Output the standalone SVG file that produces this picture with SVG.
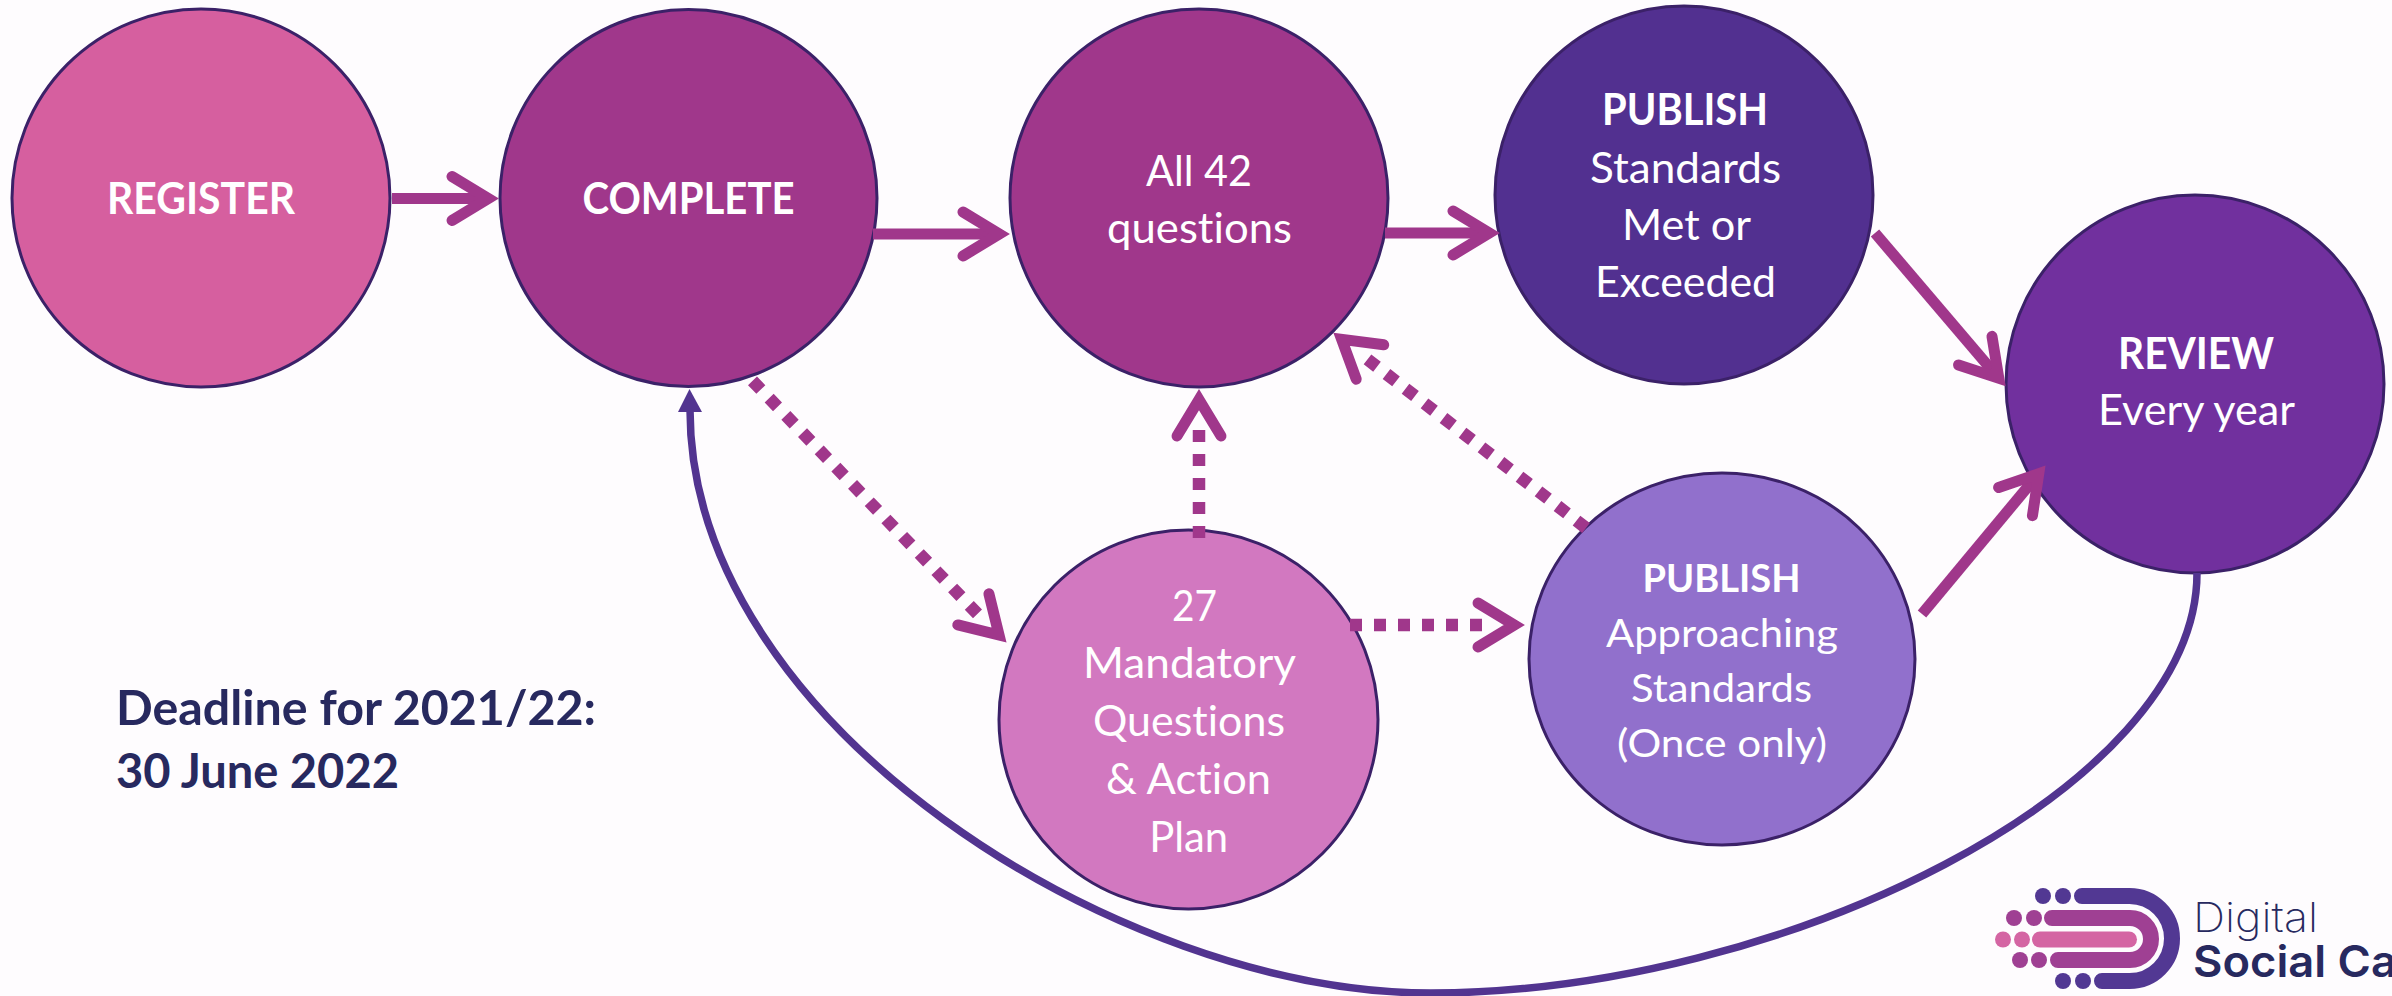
<svg xmlns="http://www.w3.org/2000/svg" width="2392" height="996" viewBox="0 0 2392 996">
<style>
text{font-family:Lato,"Open Sans",sans-serif;text-anchor:middle;fill:#fff;font-size:43px;font-variant-ligatures:none}
.b{font-weight:700}
.n{stroke:#3b2168;stroke-width:3}
.c{fill:none;stroke:#a0378b;stroke-width:11}
.d{fill:none;stroke:#a0378b;stroke-width:12.5;stroke-dasharray:12 12}
.m{fill:none;stroke:none}
.h{fill:none;stroke:#a0378b;stroke-width:11;stroke-linecap:round;stroke-miterlimit:10}
.dl{text-anchor:start;fill:#27295f;font-size:48px}
.lg{text-anchor:start;fill:#27295f;font-family:Inter,Lato,sans-serif}
.s{font-size:39px}
</style>
<defs>
<marker id="arrow" markerUnits="userSpaceOnUse" orient="auto" markerWidth="2" markerHeight="2" overflow="visible"><path class="h" d="M-32,-22L4.300,0L-32,22"/></marker>
</defs>
<rect width="2392" height="996" fill="#fefcfe"/>
<g id="register"><circle class="n" cx="201" cy="198" r="189" fill="#d65f9f"/><text class="b" x="201" y="214" textLength="188" lengthAdjust="spacingAndGlyphs">REGISTER</text></g>
<g id="complete"><circle class="n" cx="688.500" cy="198" r="188.500" fill="#a0378b"/><text class="b" x="688.500" y="214" textLength="212" lengthAdjust="spacingAndGlyphs">COMPLETE</text></g>
<g id="all42"><circle class="n" cx="1199" cy="198" r="189" fill="#a0378b"/><text x="1199" y="186" textLength="106" lengthAdjust="spacingAndGlyphs">All 42</text><text x="1199.500" y="243" textLength="185" lengthAdjust="spacingAndGlyphs">questions</text></g>
<g id="publish-met"><circle class="n" cx="1684" cy="195" r="189" fill="#523090"/><text class="b" x="1685" y="125" textLength="166" lengthAdjust="spacingAndGlyphs">PUBLISH</text><text x="1685.500" y="182.500" textLength="191" lengthAdjust="spacingAndGlyphs">Standards</text><text x="1686.500" y="240" textLength="129" lengthAdjust="spacingAndGlyphs">Met or</text><text x="1685.500" y="297" textLength="181" lengthAdjust="spacingAndGlyphs">Exceeded</text></g>
<g id="review"><circle class="n" cx="2195" cy="384" r="189" fill="#71309e"/><text class="b" x="2196" y="369" textLength="156" lengthAdjust="spacingAndGlyphs">REVIEW</text><text x="2196.500" y="425" textLength="197" lengthAdjust="spacingAndGlyphs">Every year</text></g>
<g id="mandatory"><circle class="n" cx="1188.500" cy="719.500" r="189.500" fill="#d278c0"/><text x="1194.500" y="621" textLength="45" lengthAdjust="spacingAndGlyphs">27</text><text x="1189.500" y="678" textLength="213" lengthAdjust="spacingAndGlyphs">Mandatory</text><text x="1189" y="736" textLength="192" lengthAdjust="spacingAndGlyphs">Questions</text><text x="1188.500" y="794" textLength="165" lengthAdjust="spacingAndGlyphs">&amp; Action</text><text x="1188.700" y="852" textLength="79" lengthAdjust="spacingAndGlyphs">Plan</text></g>
<g id="publish-approaching"><ellipse class="n" cx="1722" cy="659" rx="193" ry="186" fill="#9170cc"/><text class="b s" x="1721.500" y="592" textLength="158" lengthAdjust="spacingAndGlyphs">PUBLISH</text><text class="s" x="1722" y="647" textLength="232" lengthAdjust="spacingAndGlyphs">Approaching</text><text class="s" x="1721.500" y="702" textLength="181" lengthAdjust="spacingAndGlyphs">Standards</text><text class="s" x="1722" y="757" textLength="210" lengthAdjust="spacingAndGlyphs">(Once only)</text></g>
<g id="deadline"><text class="b dl" x="116" y="725" textLength="480" lengthAdjust="spacingAndGlyphs">Deadline for 2021/22:</text><text class="b dl" x="116" y="788" textLength="283" lengthAdjust="spacingAndGlyphs">30 June 2022</text></g>
<g id="logo">
<path d="M2082,896H2129.500A42.500,42.500 0 0 1 2129.500,981H2102" fill="none" stroke="#523893" stroke-width="16" stroke-linecap="round"/>
<path d="M2052,918H2130A21,21 0 0 1 2130,960H2058" fill="none" stroke="#9f4093" stroke-width="16" stroke-linecap="round"/>
<path d="M2040,939.500H2129" stroke="#d465a3" stroke-width="16" stroke-linecap="round"/>
<g fill="#523893"><circle cx="2043" cy="896" r="8"/><circle cx="2063" cy="896" r="8"/><circle cx="2063" cy="981" r="8"/><circle cx="2083" cy="981" r="8"/></g>
<g fill="#9f4093"><circle cx="2014" cy="918" r="8"/><circle cx="2034" cy="918" r="8"/><circle cx="2020" cy="960" r="8"/><circle cx="2039" cy="960" r="8"/></g>
<g fill="#d465a3"><circle cx="2003" cy="939.500" r="8"/><circle cx="2022" cy="939.500" r="8"/></g>
<text class="lg" x="2193" y="932" style="font-size:41px;font-weight:200" textLength="125" lengthAdjust="spacingAndGlyphs">Digital</text>
<text class="lg" x="2193" y="977" style="font-size:44px;font-weight:600" textLength="204" lengthAdjust="spacingAndGlyphs">Social Ca</text>
</g>
<g id="connectors">
<path d="M2197,573C2197,790 1780,993 1431,993C1120,993 690,725 690,410" fill="none" stroke="#523490" stroke-width="7.500"/>
<path d="M689.500,389L678,412H702Z" fill="#523490"/>
<path class="c" d="M392,198.500H484" marker-end="url(#arrow)"/>
<path class="c" d="M873,234H995" marker-end="url(#arrow)"/>
<path class="c" d="M1385,233H1485" marker-end="url(#arrow)"/>
<path class="c" d="M1875,233L1996,375" marker-end="url(#arrow)"/>
<path class="c" d="M1922,614L2036,477" marker-end="url(#arrow)"/>
<path class="d" d="M752.500,380.900L977.500,613.800"/>
<path class="m" d="M990,626L996,632" marker-end="url(#arrow)"/>
<path class="d" d="M1199,538V430"/>
<path class="m" d="M1199,410V404" marker-end="url(#arrow)"/>
<path class="d" d="M1586,528L1367,359"/>
<path class="m" d="M1350,346L1345,342" marker-end="url(#arrow)"/>
<path class="d" d="M1350,625H1482"/>
<path class="m" d="M1505,625H1510" marker-end="url(#arrow)"/>
</g>
</svg>
